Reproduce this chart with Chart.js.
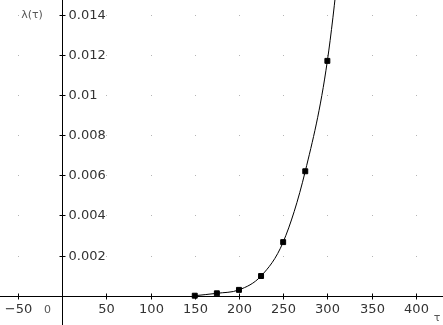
<!DOCTYPE html>
<html lang="en">
<head>
    <meta charset="UTF-8">
    <title>λ(τ)</title>
    <script src="https://cdn.jsdelivr.net/npm/chart.js@4.4.1/dist/chart.umd.min.js"></script>
    <style>
        html, body {
            margin: 0;
            padding: 0;
            background: #fff;
        }
        .chart-box {
            width: 443px;
            height: 325px;
        }
    </style>
</head>
<body>
    <div class="chart-box">
        <canvas id="lambdaChart"></canvas>
    </div>

    <script>
        // Data
        const tauValues = [150, 175, 200, 225, 250, 275, 300, 325];
        const lambdaValues = [0.0, 0.00012, 0.00029, 0.00098, 0.00267, 0.0062, 0.0117, 0.0215];

        // Tick labels
        const xTicks = [-50, 50, 100, 150, 200, 250, 300, 350, 400];
        const yTicks = [0.002, 0.004, 0.006, 0.008, 0.01, 0.012, 0.014];
        const xGrid = [-50, 50, 100, 150, 200, 250, 300, 350, 400];
        const yGrid = [0.002, 0.004, 0.006, 0.008, 0.01, 0.012, 0.014];

        const FONT = '13px "DejaVu Sans", sans-serif';

        // Axes through the origin, tick marks, labels and dotted grid
        const axesPlugin = {
            id: 'axesPlugin',
            beforeDatasetsDraw(chart) {
                const ctx = chart.ctx;
                const xs = chart.scales.x;
                const ys = chart.scales.y;
                const x0 = Math.round(xs.getPixelForValue(0)) + 0.5;
                const y0 = Math.round(ys.getPixelForValue(0)) + 0.5;
                ctx.save();

                // grid dots
                ctx.fillStyle = '#b4b4b4';
                xGrid.forEach(gx => {
                    yGrid.forEach(gy => {
                        const px = Math.round(xs.getPixelForValue(gx));
                        const py = Math.round(ys.getPixelForValue(gy));
                        ctx.fillRect(px, py, 1, 1);
                    });
                });

                // axis lines
                ctx.strokeStyle = '#000';
                ctx.lineWidth = 1;
                ctx.beginPath();
                ctx.moveTo(0, y0);
                ctx.lineTo(chart.width, y0);
                ctx.moveTo(x0, 0);
                ctx.lineTo(x0, chart.height);
                ctx.stroke();

                // x ticks and labels
                ctx.font = FONT;
                ctx.fillStyle = '#333';
                ctx.textAlign = 'center';
                ctx.textBaseline = 'top';
                xTicks.forEach(v => {
                    const px = Math.round(xs.getPixelForValue(v)) + 0.5;
                    ctx.beginPath();
                    ctx.moveTo(px, y0 - 3);
                    ctx.lineTo(px, y0 + 3);
                    ctx.stroke();
                    ctx.fillText(v < 0 ? '\u2212' + Math.abs(v) : String(v), px, y0 + 7);
                });

                // y ticks and labels
                ctx.textAlign = 'left';
                ctx.textBaseline = 'middle';
                yTicks.forEach(v => {
                    const py = Math.round(ys.getPixelForValue(v)) + 0.5;
                    ctx.beginPath();
                    ctx.moveTo(x0 - 3, py);
                    ctx.lineTo(x0 + 3, py);
                    ctx.stroke();
                    ctx.fillText(String(v), x0 + 6, py);
                });

                // origin and axis names
                ctx.font = '11px "DejaVu Sans", sans-serif';
                ctx.fillStyle = '#555';
                ctx.textAlign = 'center';
                ctx.fillText('0', x0 - 15, y0 + 14);
                ctx.fillText('λ(τ)', 32, ys.getPixelForValue(0.014));
                ctx.fillText('τ', chart.width - 6, y0 + 22);
                ctx.restore();
            }
        };

        const ctx = document.getElementById('lambdaChart').getContext('2d');
        new Chart(ctx, {
            type: 'line',
            data: {
                datasets: [{
                    label: 'λ(τ)',
                    data: tauValues.map((t, i) => ({ x: t, y: lambdaValues[i] })),
                    borderColor: '#000',
                    backgroundColor: '#000',
                    borderWidth: 1,
                    pointStyle: 'rect',
                    pointRadius: 3.5,
                    pointHoverRadius: 3.5,
                    cubicInterpolationMode: 'monotone',
                    fill: false
                }]
            },
            options: {
                responsive: true,
                maintainAspectRatio: false,
                animation: false,
                layout: { padding: 0, autoPadding: false },
                plugins: {
                    legend: { display: false },
                    tooltip: { enabled: false }
                },
                scales: {
                    x: {
                        type: 'linear',
                        display: false,
                        min: -70.3,
                        max: 430.8
                    },
                    y: {
                        type: 'linear',
                        display: false,
                        min: -0.00146,
                        max: 0.014733
                    }
                }
            },
            plugins: [axesPlugin]
        });
    </script>
</body>
</html>
